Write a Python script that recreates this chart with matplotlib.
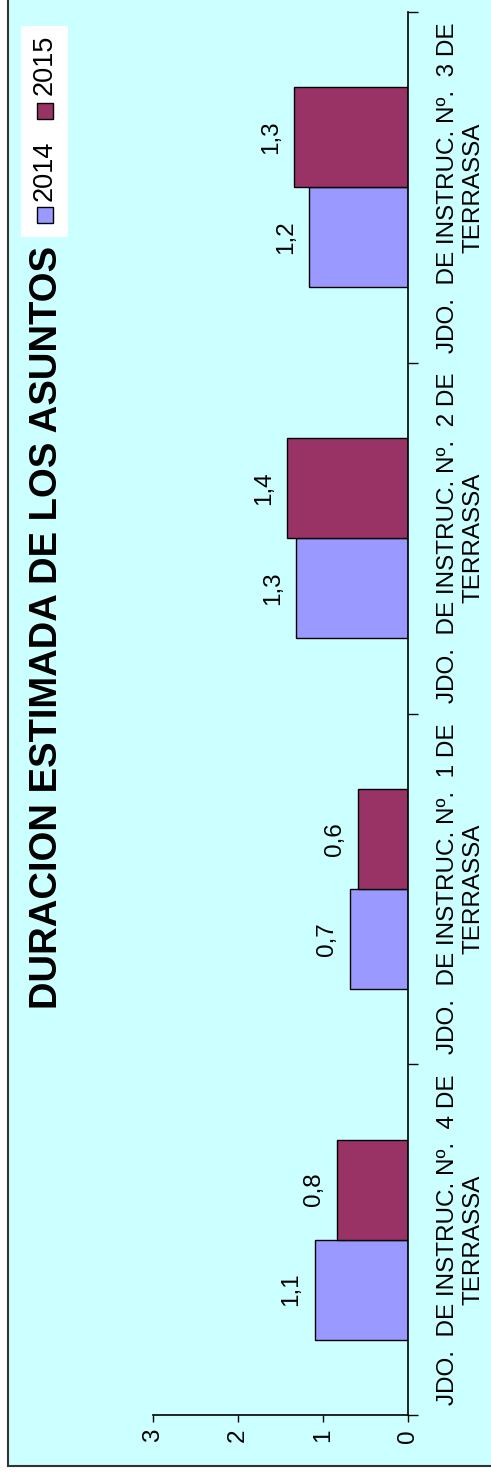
import matplotlib
matplotlib.use("Agg")
import matplotlib.pyplot as plt
from matplotlib.patches import Rectangle
import numpy as np

plt.rcParams['font.family'] = ['Liberation Sans', 'DejaVu Sans']

# datos (de abajo hacia arriba en la imagen girada)
juzgados = ["JDO.  DE INSTRUC. Nº.  4 DE\nTERRASSA",
            "JDO.  DE INSTRUC. Nº.  1 DE\nTERRASSA",
            "JDO.  DE INSTRUC. Nº.  2 DE\nTERRASSA",
            "JDO.  DE INSTRUC. Nº.  3 DE\nTERRASSA"]
v2014 = [1.10, 0.68, 1.32, 1.16]
v2015 = [0.83, 0.59, 1.42, 1.34]
anios = ["2014", "2015"]
titulo = "DURACION ESTIMADA DE LOS ASUNTOS"
ticks_valor = [0, 1, 2, 3]

c2014 = "#9999FF"
c2015 = "#993366"
fondo = "#CCFFFF"

W, H = 491, 1473
fig = plt.figure(figsize=(W / 100, H / 100), dpi=100)
fig.patch.set_facecolor("white")

# marco del gráfico
fig.patches.append(Rectangle((8 / W, 1 - 1466 / H), 2.0, 2.0, transform=fig.transFigure,
                             facecolor=fondo, edgecolor="#333333", linewidth=1.5, zorder=-2))

ax = fig.add_axes([153 / W, 1 - 1415 / H, (408 - 153) / W, (1415 - 12) / H], zorder=3)
ax.set_facecolor("none")

y = np.arange(len(juzgados))
h = 0.285
ax.barh(y - h / 2, v2014, height=h, color=c2014, edgecolor="black", linewidth=1)
ax.barh(y + h / 2, v2015, height=h, color=c2015, edgecolor="black", linewidth=1)

ax.set_xlim(3, 0)
ax.set_ylim(-0.5, len(juzgados) - 0.5)

for s in ["top", "left"]:
    ax.spines[s].set_visible(False)
ax.spines["right"].set_linewidth(1.2)
ax.spines["bottom"].set_linewidth(1.2)

ax.set_xticks(ticks_valor)
ax.set_xticklabels([str(t) for t in ticks_valor], rotation=90, fontsize=17.5, va="top", ha="center")
ax.tick_params(axis="x", direction="out", length=5, width=1, pad=5)

ax.yaxis.tick_right()
ax.set_yticks(np.arange(len(juzgados) + 1) - 0.5)
ax.set_yticklabels([])
ax.tick_params(axis="y", direction="out", length=7, width=1)

for i, lab in enumerate(juzgados):
    ax.text(-0.62, i, lab, rotation=90, ha="center", va="center", multialignment="center",
            fontsize=17.5, linespacing=1.25, clip_on=False)

def etiqueta(v):
    return f"{v:.1f}".replace(".", ",")

for i in range(len(juzgados)):
    ax.text(v2014[i] + 0.27, i - h / 2, etiqueta(v2014[i]), rotation=90,
            ha="center", va="center", fontsize=17.5)
    ax.text(v2015[i] + 0.27, i + h / 2, etiqueta(v2015[i]), rotation=90,
            ha="center", va="center", fontsize=17.5)

fig.text(47 / W, 1 - 627 / H, titulo, rotation=90, ha="center", va="center",
         fontsize=27.5, fontweight="bold")

# leyenda (girada)
fig.patches.append(Rectangle((21 / W, 1 - 237 / H), 47 / W, 211 / H, transform=fig.transFigure,
                             facecolor="white", edgecolor="none", zorder=1))
for col, txt, yk, yt in [(c2014, anios[0], 215, 171), (c2015, anios[1], 111, 65)]:
    fig.patches.append(Rectangle((37 / W, 1 - (yk + 8) / H), 16 / W, 16 / H,
                                 transform=fig.transFigure, facecolor=col,
                                 edgecolor="black", linewidth=1, zorder=2))
    fig.text(45 / W, 1 - yt / H, txt, rotation=90, ha="center", va="center", fontsize=19.5)

fig.savefig("out.png", dpi=100)
